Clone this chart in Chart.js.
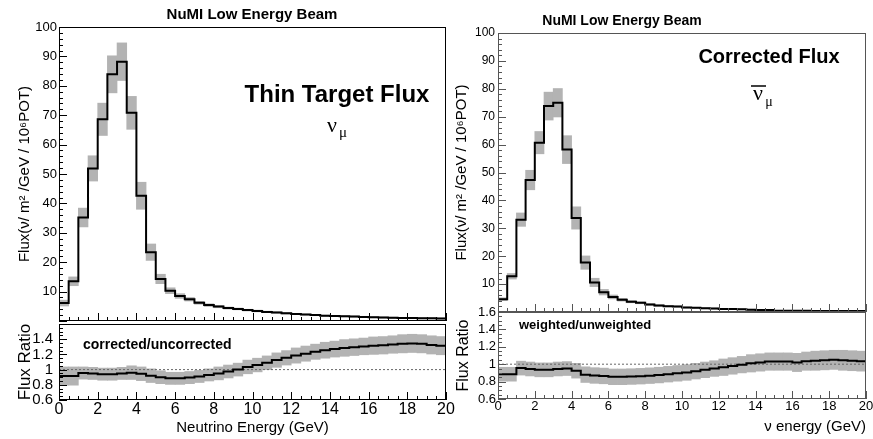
<!DOCTYPE html>
<html>
<head>
<meta charset="utf-8">
<script src="https://cdn.jsdelivr.net/npm/chart.js@4.4.1/dist/chart.umd.min.js"></script>
<style>
  body { margin: 0; background: #fff; width: 873px; height: 439px; overflow: hidden; position: relative; }
  canvas { position: absolute; }
</style>
</head>
<body>
<canvas id="leftTop" width="460" height="335" style="left:0;top:0"></canvas>
<canvas id="leftRatio" width="460" height="130" style="left:0;top:309px"></canvas>
<canvas id="rightTop" width="430" height="325" style="left:450px;top:0"></canvas>
<canvas id="rightRatio" width="430" height="139" style="left:450px;top:300px"></canvas>
<script>
// 0.5 GeV bins from 0 to 20 GeV
const binWidth = 0.5;
const energyMax = 20;

// nu_mu thin target flux (per bin) and its error
const numuFlux = [6.1, 13.5, 35.2, 51.9, 68.6, 83.9, 88.2, 70.8, 42.6, 23.4,
  14.3, 10.3, 8.5, 7.4, 6.2, 5.4, 4.9, 4.4, 4.1, 3.7,
  3.4, 3.1, 2.9, 2.6, 2.4, 2.2, 2.0, 1.8, 1.7, 1.6,
  1.5, 1.4, 1.3, 1.2, 1.1, 1.05, 1.0, 0.95, 0.9, 0.85];
const numuFluxErr = [1.0, 1.5, 3.2, 4.3, 5.5, 6.3, 6.4, 5.6, 4.6, 2.8,
  1.6, 1.0, 0.8, 0.6, 0.5, 0.45, 0.4, 0.35, 0.3, 0.3,
  0.3, 0.25, 0.25, 0.25, 0.2, 0.2, 0.2, 0.2, 0.2, 0.2,
  0.2, 0.2, 0.2, 0.2, 0.2, 0.2, 0.2, 0.2, 0.2, 0.2];
// corrected/uncorrected
const numuRatio = [0.915, 0.915, 0.955, 0.950, 0.940, 0.940, 0.950, 0.960, 0.945, 0.920,
  0.900, 0.885, 0.885, 0.895, 0.910, 0.930, 0.950, 0.975, 1.000, 1.035,
  1.060, 1.090, 1.125, 1.155, 1.185, 1.210, 1.235, 1.255, 1.270, 1.285,
  1.295, 1.305, 1.315, 1.320, 1.330, 1.340, 1.345, 1.340, 1.325, 1.315];
const numuRatioErr = [0.12, 0.12, 0.08, 0.08, 0.08, 0.08, 0.08, 0.09, 0.09, 0.09,
  0.085, 0.08, 0.08, 0.08, 0.08, 0.08, 0.085, 0.085, 0.085, 0.09,
  0.09, 0.09, 0.095, 0.095, 0.1, 0.1, 0.1, 0.105, 0.105, 0.11,
  0.11, 0.11, 0.115, 0.115, 0.115, 0.12, 0.12, 0.12, 0.12, 0.12];

// anti nu_mu corrected flux
const numubarFlux = [4.6, 12.8, 33.1, 47.3, 60.7, 73.8, 75.0, 58.2, 33.7, 17.7,
  10.6, 7.1, 5.4, 4.4, 3.7, 3.3, 2.7, 2.3, 2.1, 1.95,
  1.6, 1.5, 1.35, 1.25, 1.1, 1.1, 1.0, 0.8, 0.75, 0.7,
  0.45, 0.45, 0.42, 0.42, 0.4, 0.4, 0.38, 0.38, 0.36, 0.35];
const numubarFluxErr = [0.5, 1.0, 2.4, 3.5, 4.0, 5.0, 5.1, 5.0, 4.0, 2.4,
  1.5, 1.0, 0.7, 0.5, 0.4, 0.35, 0.3, 0.3, 0.25, 0.25,
  0.2, 0.2, 0.2, 0.2, 0.2, 0.2, 0.2, 0.2, 0.2, 0.2,
  0.15, 0.15, 0.15, 0.15, 0.15, 0.15, 0.15, 0.15, 0.15, 0.15];
// weighted/unweighted
const numubarRatio = [0.885, 0.885, 0.955, 0.945, 0.935, 0.935, 0.945, 0.950, 0.925, 0.880,
  0.870, 0.865, 0.855, 0.855, 0.858, 0.862, 0.868, 0.875, 0.885, 0.895,
  0.905, 0.920, 0.935, 0.950, 0.965, 0.980, 0.995, 1.010, 1.020, 1.030,
  1.030, 1.030, 1.020, 1.035, 1.040, 1.045, 1.050, 1.045, 1.040, 1.035];
const numubarRatioErr = [0.08, 0.08, 0.08, 0.08, 0.08, 0.08, 0.08, 0.08, 0.085, 0.09,
  0.09, 0.09, 0.09, 0.09, 0.09, 0.09, 0.09, 0.09, 0.09, 0.09,
  0.09, 0.09, 0.09, 0.09, 0.095, 0.095, 0.095, 0.1, 0.1, 0.1,
  0.1, 0.1, 0.105, 0.105, 0.11, 0.11, 0.11, 0.115, 0.115, 0.115];

const SANS = "'Liberation Sans', Arial, sans-serif";
const SERIF = "'Liberation Serif', 'Times New Roman', serif";
const fluxTitle = 'Flux(\u03bd/ m\u00b2 /GeV / 10\u2076POT)';

function stepPoints(values) {
  const pts = values.map((v, i) => ({ x: i * binWidth, y: v }));
  pts.push({ x: values.length * binWidth, y: values[values.length - 1] });
  return pts;
}

function bandBars(values, errs) {
  return values.map((v, i) => ({ x: (i + 0.5) * binWidth, y: [v - errs[i], v + errs[i]] }));
}

// ROOT style frame with inward ticks
const rootFrame = {
  id: 'rootFrame',
  afterDatasetsDraw(chart, args, f) {
    const { ctx, chartArea: a, scales: { x, y } } = chart;
    ctx.save();
    ctx.strokeStyle = f.color;
    ctx.lineWidth = 1;
    ctx.strokeRect(a.left + 0.5, a.top + 0.5, a.right - a.left - 1, a.bottom - a.top - 1);
    ctx.beginPath();
    const nx = Math.round((x.max - x.min) / f.xMinor);
    for (let i = 0; i <= nx; i++) {
      const v = x.min + i * f.xMinor;
      const major = Math.abs(v / f.xMajor - Math.round(v / f.xMajor)) < 1e-6;
      const px = Math.round(x.getPixelForValue(v)) + 0.5;
      ctx.moveTo(px, a.bottom);
      ctx.lineTo(px, a.bottom - (major ? f.majorLen : f.minorLen));
    }
    const ny = Math.round((y.max - y.min) / f.yMinor);
    for (let i = 0; i <= ny; i++) {
      const v = y.min + i * f.yMinor;
      const major = Math.abs((v - y.min) / f.yMajor - Math.round((v - y.min) / f.yMajor)) < 1e-6;
      const py = Math.round(y.getPixelForValue(v)) + 0.5;
      ctx.moveTo(a.left, py);
      ctx.lineTo(a.left + (major ? f.majorLen : f.minorLen), py);
    }
    ctx.stroke();
    ctx.restore();
  }
};

const notes = {
  id: 'notes',
  afterDraw(chart, args, opts) {
    const ctx = chart.ctx;
    (opts.items || []).forEach(n => {
      ctx.save();
      ctx.font = n.font;
      ctx.fillStyle = n.color || '#000';
      ctx.textAlign = n.align || 'center';
      ctx.textBaseline = 'middle';
      ctx.fillText(n.text, n.x, n.y);
      if (n.bar) {
        ctx.strokeStyle = n.color || '#000';
        ctx.lineWidth = 1.5;
        ctx.beginPath();
        ctx.moveTo(n.bar[0], n.bar[2]);
        ctx.lineTo(n.bar[1], n.bar[2]);
        ctx.stroke();
      }
      ctx.restore();
    });
  }
};

Chart.register(rootFrame, notes);

function fmt(v) {
  return String(Number(v.toFixed(2)));
}

function buildChart(id, o) {
  const datasets = [
    { type: 'line', data: stepPoints(o.values), stepped: 'before', borderColor: '#000',
      borderWidth: 2, pointRadius: 0, order: 0 },
    { type: 'bar', data: bandBars(o.values, o.errs), backgroundColor: '#b3b3b3',
      borderWidth: 0, barPercentage: 1, categoryPercentage: 1, order: 2 }
  ];
  if (o.unity) {
    datasets.push({ type: 'line', data: [{ x: 0, y: 1 }, { x: energyMax, y: 1 }], borderColor: '#666',
      borderWidth: 1, borderDash: [2, 2], pointRadius: 0, order: 1 });
  }
  return new Chart(document.getElementById(id), {
    type: 'bar',
    data: { datasets },
    options: {
      responsive: false,
      animation: false,
      events: [],
      devicePixelRatio: 1,
      layout: { padding: o.pad },
      plugins: {
        legend: { display: false },
        tooltip: { enabled: false },
        rootFrame: o.frame,
        notes: { items: o.notes }
      },
      scales: {
        x: {
          type: 'linear', min: 0, max: energyMax, offset: false, display: !!o.xTitle,
          grid: { display: false, drawTicks: false }, border: { display: false },
          ticks: { stepSize: 2, autoSkip: false, maxRotation: 0, padding: 0, color: '#000',
            font: { family: SANS, size: o.xTickSize || 12 } },
          title: { display: !!o.xTitle, text: o.xTitle || '', align: o.xTitleAlign || 'center', color: '#000',
            font: { family: SANS, size: 15 }, padding: { top: 0, bottom: o.xTitlePad || 0 } },
          afterFit: s => { s.height = o.xAxisH || 0; }
        },
        y: {
          min: o.yMin, max: o.yMax, beginAtZero: false,
          grid: { display: false, drawTicks: false }, border: { display: false },
          ticks: { stepSize: o.yStep, autoSkip: false, padding: o.yTickPad, color: '#000',
            font: { family: SANS, size: o.yTickSize },
            callback: v => o.yHide.some(h => Math.abs(h - v) < 1e-6) ? null : fmt(v) },
          title: { display: true, text: o.yTitle, color: '#000',
            font: { family: SANS, size: o.yTitleSize }, padding: { top: o.yTitlePad, bottom: 0 } },
          afterFit: s => { s.width = o.yAxisW; }
        }
      }
    }
  });
}

// left: thin target flux
buildChart('leftTop', {
  values: numuFlux, errs: numuFluxErr,
  pad: { top: 27, left: 0, right: 14, bottom: 14 },
  yMin: 0, yMax: 100, yStep: 10, yHide: [0], yTickSize: 13, yTickPad: 2,
  yTitle: fluxTitle, yTitleSize: 15, yTitlePad: 16, yAxisW: 59,
  frame: { color: '#000', xMajor: 2, xMinor: 0.5, yMajor: 10, yMinor: 2, majorLen: 8, minorLen: 4 },
  notes: [
    { text: 'NuMI Low Energy Beam', x: 252, y: 15, font: 'bold 15px ' + SANS },
    { text: 'Thin Target Flux', x: 337, y: 95, font: 'bold 24px ' + SANS },
    { text: '\u03bd', x: 332, y: 126, font: '22px ' + SERIF },
    { text: '\u03bc', x: 343, y: 133, font: '15px ' + SERIF }
  ]
});

buildChart('leftRatio', {
  values: numuRatio, errs: numuRatioErr, unity: true,
  pad: { top: 12, left: 0, right: 14, bottom: 0 },
  yMin: 0.6, yMax: 1.6, yStep: 0.2, yHide: [1.6], yTickSize: 15, yTickPad: 6,
  yTitle: 'Flux Ratio', yTitleSize: 17, yTitlePad: 15, yAxisW: 59,
  xTitle: 'Neutrino Energy (GeV)', xTickSize: 16, xTitlePad: 2, xAxisH: 39,
  frame: { color: '#000', xMajor: 2, xMinor: 0.5, yMajor: 0.2, yMinor: 0.05, majorLen: 8, minorLen: 4 },
  notes: [
    { text: 'corrected/uncorrected', x: 83, y: 36, align: 'left', font: 'bold 14px ' + SANS }
  ]
});

// right: corrected anti-neutrino flux
buildChart('rightTop', {
  values: numubarFlux, errs: numubarFluxErr,
  pad: { top: 33, left: 0, right: 14, bottom: 13 },
  yMin: 0, yMax: 100, yStep: 10, yHide: [0], yTickSize: 12, yTickPad: 3,
  yTitle: fluxTitle, yTitleSize: 15, yTitlePad: 3, yAxisW: 48,
  frame: { color: '#555', xMajor: 2, xMinor: 0.5, yMajor: 10, yMinor: 2, majorLen: 8, minorLen: 4 },
  notes: [
    { text: 'NuMI Low Energy Beam', x: 172, y: 21, font: 'bold 14px ' + SANS },
    { text: 'Corrected Flux', x: 319, y: 57, font: 'bold 20px ' + SANS },
    { text: '\u03bd', x: 308, y: 94, font: '22px ' + SERIF, bar: [301, 316, 86] },
    { text: '\u03bc', x: 319, y: 102, font: '14px ' + SERIF }
  ]
});

buildChart('rightRatio', {
  values: numubarRatio, errs: numubarRatioErr, unity: true,
  pad: { top: 12, left: 0, right: 14, bottom: 0 },
  yMin: 0.6, yMax: 1.6, yStep: 0.2, yHide: [], yTickSize: 13, yTickPad: 2,
  yTitle: 'Flux Ratio', yTitleSize: 16, yTitlePad: 4, yAxisW: 48,
  xTitle: '\u03bd energy (GeV)', xTitleAlign: 'end', xTickSize: 13, xTitlePad: 3, xAxisH: 40,
  frame: { color: '#555', xMajor: 2, xMinor: 0.5, yMajor: 0.2, yMinor: 0.05, majorLen: 8, minorLen: 4 },
  notes: [
    { text: 'weighted/unweighted', x: 69, y: 25, align: 'left', font: 'bold 13px ' + SANS }
  ]
});
</script>
</body>
</html>
